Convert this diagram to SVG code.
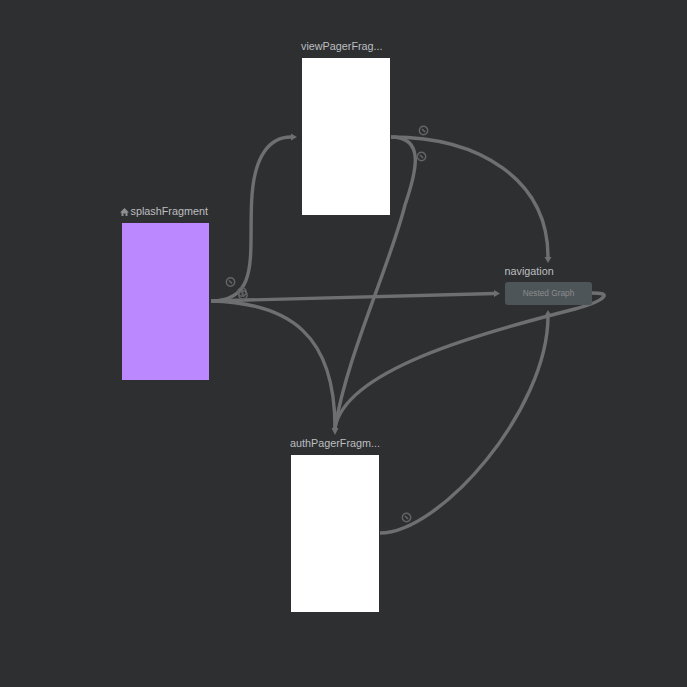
<svg xmlns="http://www.w3.org/2000/svg" width="687" height="687" viewBox="0 0 687 687">
<style>
.lbl{font-family:"Liberation Sans",Arial,sans-serif;font-size:10.8px;fill:#bcbec0}
.c{fill:none;stroke:#6e6f71;stroke-width:3.400}
.ah{fill:#6e6f71}
.badge circle{fill:none;stroke:#646567;stroke-width:1.400}
.badge path{stroke:#646567;stroke-width:1.600;fill:none}
</style>
<defs>
<g id="act" class="badge"><circle r="4.200"/><path d="M-1.500-1.500L1.500 1.500"/></g>
</defs>
<rect width="687" height="687" fill="#2e2f31"/>
<g id="connectors">
<path class="c" d="M211 301C262 301 248 250 252 195C255 155 270 137 291 137"/>
<path class="ah" d="M291 133.500L297 137L291 140.500Z"/>
<path class="c" d="M211 301L495 293.500"/>
<path class="ah" d="M494 290L500 293.500L494 297Z"/>
<path class="c" d="M211 301C290 303 335 335 335 428"/>
<path class="c" d="M391 137C425 137 417 170 405 205C390 265 347 355 335 428"/>
<path class="ah" d="M331.500 428L335 435L338.500 428Z"/>
<path class="c" d="M391 137C480 137 548 180 548 257"/>
<path class="ah" d="M544.500 257L548 263L551.500 257Z"/>
<path class="c" d="M592 293C601 293 605 294 604 296C602 300 590 305 575 309C480 333 345 370 335 428"/>
<path class="c" d="M380 533C440 533 548 410 548 316"/>
<path class="ah" d="M544.500 316L548 310L551.500 316Z"/>
</g>
<g id="badges">
<use href="#act" x="230.500" y="282"/>
<use href="#act" x="242" y="292"/>
<use href="#act" x="243" y="295"/>
<use href="#act" x="423.500" y="130.500"/>
<use href="#act" x="421.500" y="156.500"/>
<use href="#act" x="406.500" y="517.500"/>
</g>
<g id="viewPagerFragment">
<rect x="302" y="58" width="88" height="157" fill="#fff"/>
<text class="lbl" x="301" y="50">viewPagerFrag...</text>
</g>
<g id="splashFragment">
<rect x="122" y="223" width="87" height="157" fill="#bb88ff"/>
<path d="M120 212.500L124.500 208L129 212.500H127.500V216H125.500V213.500H123.500V216H121.500V212.500Z" fill="#8c8e90"/>
<text class="lbl" x="130.500" y="215">splashFragment</text>
</g>
<g id="authPagerFragment">
<rect x="291" y="455" width="88" height="157" fill="#fff"/>
<text class="lbl" x="290" y="447">authPagerFragm...</text>
</g>
<g id="navigation">
<rect x="505" y="282" width="87" height="23" rx="3" fill="#4e5558"/>
<text class="lbl" x="504.500" y="275">navigation</text>
<text x="548.500" y="296" text-anchor="middle" font-family="'Liberation Sans',Arial,sans-serif" font-size="8.300px" fill="#8a8c8e">Nested Graph</text>
</g>
</svg>
